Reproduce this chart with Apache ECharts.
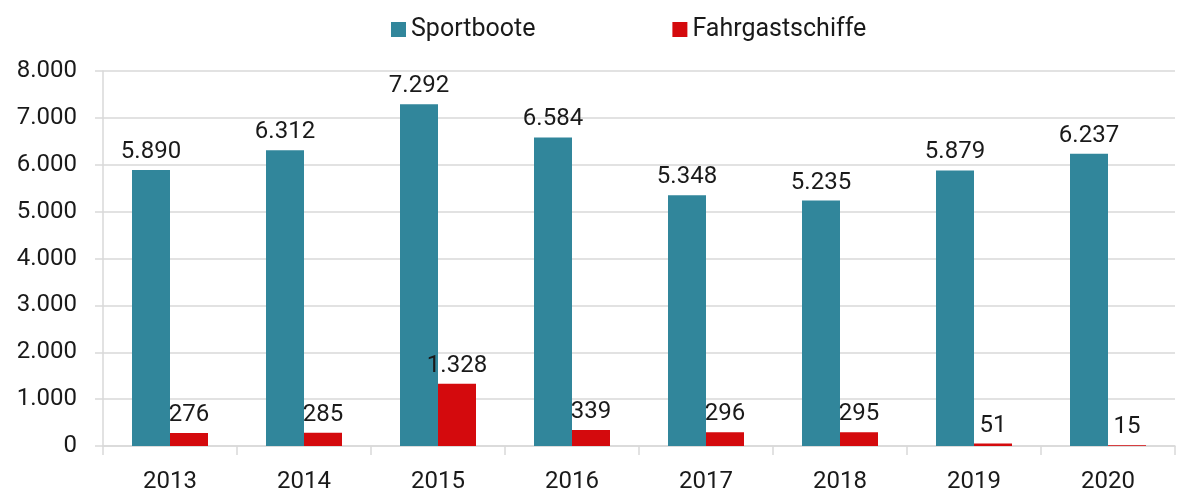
<!DOCTYPE html>
<html>
<head>
<meta charset="utf-8">
<script src="https://cdn.jsdelivr.net/npm/echarts@6/dist/echarts.min.js"></script>
<style>
  html, body { margin: 0; padding: 0; background: #fff; }
  #chart { width: 1180px; height: 491px; }
</style>
</head>
<body>
<div id="chart"></div>
<script>
// Jahre und Werte
var jahre = ["2013", "2014", "2015", "2016", "2017", "2018", "2019", "2020"];
var sportboote = [5890, 6312, 7292, 6584, 5348, 5235, 5879, 6237];
var fahrgastschiffe = [276, 285, 1328, 339, 296, 295, 51, 15];

// Tausenderpunkt wie im Original
function fmt(v) {
  return String(v).replace(/\B(?=(\d{3})+(?!\d))/g, ".");
}

var chart = echarts.init(document.getElementById("chart"));
var font = "Roboto";
var label = {
  show: true,
  position: "top",
  distance: 6,
  fontFamily: font,
  fontSize: 24,
  color: "#1a1a1a",
  formatter: function (p) { return fmt(p.value); }
};

var option = {
  animation: false,
  textStyle: { fontFamily: font },
  legend: {
    top: 17,
    left: 391,
    padding: 0,
    itemWidth: 15,
    itemHeight: 15,
    itemGap: 137,
    icon: "rect",
    textStyle: { fontSize: 25, color: "#1a1a1a", fontFamily: font },
    data: ["Sportboote", "Fahrgastschiffe"]
  },
  grid: { left: 103, right: 5, top: 71, bottom: 45, outerBoundsMode: "none" },
  xAxis: {
    type: "category",
    data: jahre,
    axisLine: { lineStyle: { color: "#d9d9d9", width: 1.5 } },
    axisTick: { show: true, length: 9, lineStyle: { color: "#d9d9d9", width: 1.5 } },
    axisLabel: { fontSize: 24, color: "#1a1a1a", margin: 24, fontFamily: font }
  },
  yAxis: {
    type: "value",
    min: 0,
    max: 8000,
    interval: 1000,
    axisLine: { show: true, lineStyle: { color: "#d9d9d9", width: 1.5 } },
    axisTick: { show: true, length: 8, lineStyle: { color: "#d9d9d9", width: 1.5 } },
    splitLine: { lineStyle: { color: "#d9d9d9", width: 1.5 } },
    axisLabel: {
      fontSize: 24, color: "#1a1a1a", margin: 26, fontFamily: font,
      formatter: function (v) { return fmt(v); }
    }
  },
  series: [
    {
      name: "Sportboote",
      type: "bar",
      data: sportboote,
      barWidth: 38,
      barGap: "0%",
      itemStyle: { color: "#31869b" },
      label: label
    },
    {
      name: "Fahrgastschiffe",
      type: "bar",
      data: fahrgastschiffe,
      barWidth: 38,
      barGap: "0%",
      itemStyle: { color: "#d40a0d" },
      label: label
    }
  ]
};
chart.setOption(option);
</script>
</body>
</html>
